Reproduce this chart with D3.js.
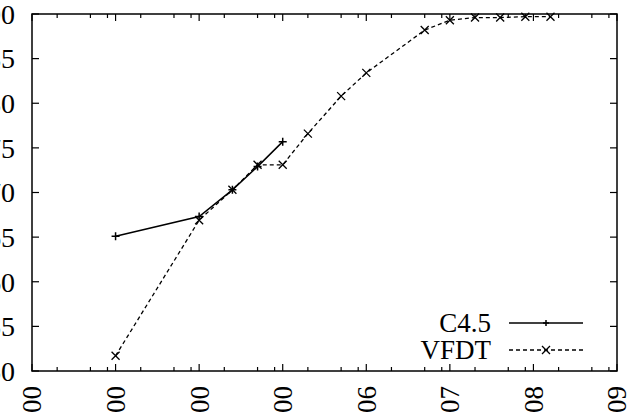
<!DOCTYPE html>
<html>
<head>
<meta charset="utf-8">
<script src="https://cdn.jsdelivr.net/npm/d3@7"></script>
<style>
  body { margin: 0; background: #fff; }
  text { font-family: "Liberation Serif", "DejaVu Serif", serif; }
</style>
</head>
<body>
<div id="chart"></div>
<script>
// examples seen vs accuracy
const c45N = [1000, 10000, 25000, 50000, 100000];
const c45Acc = [65.1, 67.3, 70.3, 72.9, 75.7];
const vfdtN = [1000, 10000, 25000, 50000, 100000, 200000, 500000, 1000000,
               5000000, 10000000, 20000000, 40000000, 80000000, 160000000];
const vfdtAcc = [51.7, 66.9, 70.3, 73.1, 73.1, 76.6, 80.8, 83.4,
                 88.2, 89.3, 89.6, 89.6, 89.7, 89.7];
const xTickVals = [1e2, 1e3, 1e4, 1e5, 1e6, 1e7, 1e8, 1e9];
const xTickLabels = ["100", "1000", "10000", "100000", "1e+06", "1e+07", "1e+08", "1e+09"];
const yTickVals = [50, 55, 60, 65, 70, 75, 80, 85, 90];
const minorMult = [2, 5, 8];

const W = 627, H = 414;
const margin = { top: 14, right: 10, bottom: 43, left: 32 };
const width = W - margin.left - margin.right;
const height = H - margin.top - margin.bottom;

const svg = d3.select("#chart")
    .append("svg")
    .attr("width", W)
    .attr("height", H)
    .style("background", "#fff");

const g = svg.append("g")
    .attr("transform", `translate(${margin.left},${margin.top})`);

const x = d3.scaleLog().domain([1e2, 1e9]).range([0, width]);
const y = d3.scaleLinear().domain([50, 90]).range([height, 0]);

const minorVals = [];
for (let e = 2; e < 9; e++) minorMult.forEach(m => minorVals.push(m * Math.pow(10, e)));

// ticks, drawn inward on all four sides
const tk = g.append("g").attr("stroke", "#000").attr("stroke-width", 1.2);
xTickVals.forEach(v => {
    tk.append("line").attr("x1", x(v)).attr("x2", x(v)).attr("y1", height).attr("y2", height - 7);
    tk.append("line").attr("x1", x(v)).attr("x2", x(v)).attr("y1", 0).attr("y2", 7);
});
minorVals.forEach(v => {
    tk.append("line").attr("x1", x(v)).attr("x2", x(v)).attr("y1", height).attr("y2", height - 4);
    tk.append("line").attr("x1", x(v)).attr("x2", x(v)).attr("y1", 0).attr("y2", 4);
});
yTickVals.forEach(v => {
    tk.append("line").attr("x1", 0).attr("x2", 7).attr("y1", y(v)).attr("y2", y(v));
    tk.append("line").attr("x1", width).attr("x2", width - 7).attr("y1", y(v)).attr("y2", y(v));
});

// tick labels (partly outside the picture, as in the original crop)
g.selectAll(".ylab")
    .data(yTickVals)
    .enter().append("text")
    .attr("x", -17)
    .attr("y", d => y(d))
    .attr("dy", "0.35em")
    .attr("text-anchor", "end")
    .attr("font-size", 28)
    .text(d => d);

g.selectAll(".xlab")
    .data(xTickVals)
    .enter().append("text")
    .attr("transform", d => `translate(${x(d)},${height + 15}) rotate(-90)`)
    .attr("dy", "0.35em")
    .attr("text-anchor", "end")
    .attr("font-size", 27)
    .text((d, i) => xTickLabels[i]);

// series
const line = d3.line().x(d => x(d[0])).y(d => y(d[1]));
const c45 = c45N.map((n, i) => [n, c45Acc[i]]);
const vfdt = vfdtN.map((n, i) => [n, vfdtAcc[i]]);

g.append("path")
    .datum(vfdt)
    .attr("fill", "none")
    .attr("stroke", "#000")
    .attr("stroke-width", 1.3)
    .attr("stroke-dasharray", "4,3")
    .attr("d", line);

g.append("path")
    .datum(c45)
    .attr("fill", "none")
    .attr("stroke", "#000")
    .attr("stroke-width", 1.5)
    .attr("d", line);

function plusMark(sel, px, py, s) {
    sel.append("path")
        .attr("d", `M${px - s},${py}H${px + s}M${px},${py - s}V${py + s}`)
        .attr("stroke", "#000").attr("stroke-width", 1.5);
}
function crossMark(sel, px, py, s) {
    sel.append("path")
        .attr("d", `M${px - s},${py - s}L${px + s},${py + s}M${px - s},${py + s}L${px + s},${py - s}`)
        .attr("stroke", "#000").attr("stroke-width", 1.3);
}
c45.forEach(d => plusMark(g, x(d[0]), y(d[1]), 4));
vfdt.forEach(d => crossMark(g, x(d[0]), y(d[1]), 4));

// frame
g.append("rect")
    .attr("width", width)
    .attr("height", height)
    .attr("fill", "none")
    .attr("stroke", "#000")
    .attr("stroke-width", 1.5);

// legend
const legend = g.append("g").attr("transform", `translate(${width - 126},${height - 48})`);
const items = [
    { name: "C4.5", dash: null, mark: plusMark },
    { name: "VFDT", dash: "4,3", mark: crossMark }
];
items.forEach((it, i) => {
    const ly = i * 27;
    legend.append("text")
        .attr("x", 0)
        .attr("y", ly)
        .attr("dy", "0.35em")
        .attr("text-anchor", "end")
        .attr("font-size", 27)
        .text(it.name);
    legend.append("line")
        .attr("x1", 18).attr("x2", 92)
        .attr("y1", ly).attr("y2", ly)
        .attr("stroke", "#000")
        .attr("stroke-width", it.dash ? 1.3 : 1.5)
        .attr("stroke-dasharray", it.dash);
    it.mark(legend, 55, ly, it.dash ? 4 : 3);
});
</script>
</body>
</html>
